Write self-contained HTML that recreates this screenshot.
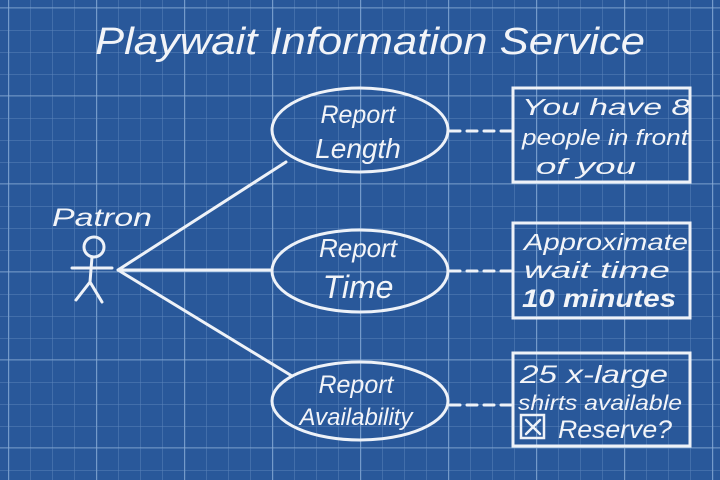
<!DOCTYPE html>
<html><head><style>
body{margin:0;width:720px;height:480px;overflow:hidden;background:#29589a;}
svg{display:block}
text{font-family:"Liberation Sans",sans-serif;fill:#f2f4f8;font-style:italic}
</style></head><body>
<svg width="720" height="480" xmlns="http://www.w3.org/2000/svg">
<defs>
<pattern id="g" width="22" height="22" patternUnits="userSpaceOnUse" x="8" y="8">
<path d="M0 0H22M0 0V22" stroke="#5a84bb" stroke-width="1" fill="none"/>
</pattern>
<pattern id="G" width="88" height="88" patternUnits="userSpaceOnUse" x="8.5" y="7.5">
<path d="M0 0H88M0 0V88" stroke="#8fb0d8" stroke-width="1.3" fill="none"/>
</pattern>
</defs>
<rect width="720" height="480" fill="#29589a"/>
<rect width="720" height="480" fill="url(#g)"/>
<rect width="720" height="480" fill="url(#G)"/>
<g stroke="#eef2f8" stroke-width="3" fill="none" stroke-linecap="round">
<ellipse cx="360" cy="130" rx="88" ry="42"/>
<ellipse cx="360" cy="271" rx="88" ry="41"/>
<ellipse cx="360" cy="401" rx="88" ry="39"/>
<rect x="513" y="88" width="177" height="94"/>
<rect x="513" y="223" width="177" height="95"/>
<rect x="513" y="353" width="177" height="93"/>
<path d="M118 270L286 162M118 270H272M118 270L292 376"/>
<path d="M450 131H513M450 271H513M450 405H513" stroke-dasharray="10 7"/>
<circle cx="94" cy="247" r="10"/>
<path d="M92 257L90 282M72 268L112 268M90 282L76 300M90 282L102 302"/>
<rect x="521" y="415" width="23" height="23" stroke-width="2.5"/>
<path d="M526 420L540 434M540 420L526 434" stroke-width="2.5"/>
</g>
<text x="95" y="54" font-size="38" textLength="550" lengthAdjust="spacingAndGlyphs">Playwait Information Service</text>
<text x="52" y="226" font-size="25" textLength="100" lengthAdjust="spacingAndGlyphs">Patron</text>
<text x="358" y="123" font-size="25" text-anchor="middle">Report</text>
<text x="358" y="158" font-size="28" text-anchor="middle">Length</text>
<text x="358" y="257" font-size="26" text-anchor="middle">Report</text>
<text x="358" y="298" font-size="32" text-anchor="middle">Time</text>
<text x="356" y="393" font-size="25" text-anchor="middle">Report</text>
<text x="356" y="425" font-size="24" text-anchor="middle">Availability</text>
<text x="522" y="115" font-size="23" textLength="168" lengthAdjust="spacingAndGlyphs">You have 8</text>
<text x="522" y="145" font-size="22" textLength="166" lengthAdjust="spacingAndGlyphs">people in front</text>
<text x="536" y="174" font-size="22" textLength="100" lengthAdjust="spacingAndGlyphs">of you</text>
<text x="524" y="250" font-size="23" textLength="164" lengthAdjust="spacingAndGlyphs">Approximate</text>
<text x="524" y="278" font-size="23" textLength="146" lengthAdjust="spacingAndGlyphs">wait time</text>
<text x="522" y="307" font-size="25" font-weight="bold" textLength="154" lengthAdjust="spacingAndGlyphs">10 minutes</text>
<text x="520" y="383" font-size="25" textLength="148" lengthAdjust="spacingAndGlyphs">25 x-large</text>
<text x="518" y="410" font-size="21" textLength="164" lengthAdjust="spacingAndGlyphs">shirts available</text>
<text x="558" y="438" font-size="25" textLength="114" lengthAdjust="spacingAndGlyphs">Reserve?</text>
</svg>
</body></html>
